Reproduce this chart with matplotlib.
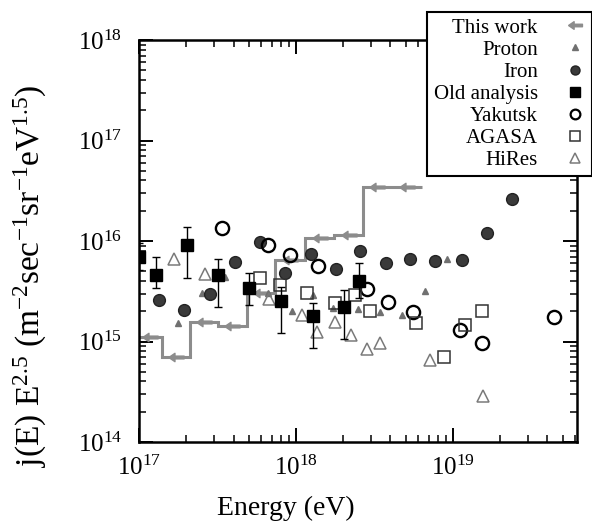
import matplotlib
matplotlib.use('Agg')
import matplotlib.pyplot as plt
import numpy as np
from matplotlib.path import Path
from matplotlib.lines import Line2D
from matplotlib.ticker import LogLocator, NullFormatter

plt.rcParams['font.family'] = ['Liberation Serif', 'DejaVu Serif']
plt.rcParams['mathtext.fontset'] = 'custom'
plt.rcParams['mathtext.rm'] = 'Liberation Serif'
plt.rcParams['mathtext.it'] = 'Liberation Serif:italic'
plt.rcParams['mathtext.bf'] = 'Liberation Serif:bold'

# ---------------- data ----------------
this_work_edges = [1.0e17, 1.40e17, 2.11e17, 3.18e17, 4.88e17, 7.35e17,
                   1.14e18, 1.75e18, 2.67e18, 4.08e18, 6.35e18]
this_work_flux = [1.11e15, 7.0e14, 1.56e15, 1.43e15, 3.04e15, 6.47e15,
                  1.07e16, 1.15e16, 3.44e16, 3.44e16]

proton_E = [1.77e17, 2.52e17, 3.53e17, 5.09e17, 6.64e17, 9.44e17, 1.28e18,
            1.72e18, 2.48e18, 3.43e18, 4.73e18, 6.64e18, 9.16e18]
proton_J = [1.53e15, 3.04e15, 4.38e15, 3.25e15, 3.04e15, 2.01e15, 2.90e15,
            2.15e15, 2.10e15, 1.97e15, 1.84e15, 3.18e15, 6.62e15]

iron_E = [1.34e17, 1.94e17, 2.83e17, 4.08e17, 5.90e17, 8.51e17, 1.25e18,
          1.80e18, 2.56e18, 3.74e18, 5.32e18, 7.67e18, 1.14e19, 1.65e19, 2.38e19]
iron_J = [2.59e15, 2.06e15, 2.97e15, 6.18e15, 9.77e15, 4.81e15, 7.43e15,
          5.26e15, 7.94e15, 6.04e15, 6.62e15, 6.30e15, 6.47e15, 1.20e16, 2.62e16]

old_E = [1.00e17, 1.28e17, 2.02e17, 3.18e17, 5.02e17, 8.02e17, 1.28e18, 2.02e18, 2.52e18]
old_J = [6.93e15, 4.59e15, 9.12e15, 4.59e15, 3.40e15, 2.53e15, 1.79e15, 2.20e15, 4.00e15]
old_hi = [9.55e15, 6.93e15, 1.38e16, 6.62e15, 4.81e15, 3.48e15, 2.42e15, 3.25e15, 6.04e15]
old_lo = [5.14e15, 3.40e15, 4.28e15, 2.20e15, 2.31e15, 1.22e15, 8.61e14, 1.06e15, 2.71e15]

yakutsk_E = [3.38e17, 6.64e17, 9.16e17, 1.38e18, 2.83e18, 3.85e18, 5.56e18,
             1.11e19, 1.53e19, 4.40e19]
yakutsk_J = [1.35e16, 9.12e15, 7.26e15, 5.64e15, 3.33e15, 2.47e15, 1.97e15,
             1.30e15, 9.66e14, 1.75e15]

agasa_E = [5.90e17, 7.91e17, 1.17e18, 1.77e18, 2.38e18, 2.96e18, 5.81e18,
           8.77e18, 1.19e19, 1.53e19]
agasa_J = [4.28e15, 3.65e15, 3.04e15, 2.42e15, 2.90e15, 2.01e15, 1.53e15,
           7.01e14, 1.46e15, 2.01e15]

hires_E = [1.67e17, 2.63e17, 6.73e17, 1.09e18, 1.36e18, 1.77e18, 2.24e18,
           2.83e18, 3.43e18, 7.14e18, 1.55e19]
hires_J = [6.62e15, 4.70e15, 2.65e15, 1.84e15, 1.24e15, 1.56e15, 1.16e15,
           8.41e14, 9.66e14, 6.54e14, 2.87e14]

legend_labels = ['This work', 'Proton', 'Iron', 'Old analysis', 'Yakutsk', 'AGASA', 'HiRes']

# ---------------- figure ----------------
fig = plt.figure(figsize=(5.92, 5.29), dpi=100)
ax = fig.add_axes([139/592, 1-442/529, 438/592, 402/529])

gray = '#8c8c8c'
arrow = Path([(-1, 0), (-0.2, 0.55), (-0.2, 0.18), (1, 0.18), (1, -0.18),
              (-0.2, -0.18), (-0.2, -0.55), (-1, 0)])

edges = np.array(this_work_edges)
centers = np.sqrt(edges[:-1] * edges[1:])
ax.stairs(this_work_flux, edges, baseline=None, color=gray, lw=2.2, zorder=2)
ax.plot(centers, this_work_flux, ls='none', marker=arrow, ms=11, color=gray,
        mec=gray, zorder=3)

ax.plot(proton_E, proton_J, ls='none', marker='^', ms=5, color='#707070', mec='#707070', zorder=4)
ax.plot(iron_E, iron_J, ls='none', marker='o', ms=8.5, color='#3a3a3a', mec='#222222', zorder=4)
oj = np.array(old_J)
ax.errorbar(old_E, old_J, yerr=[oj - np.array(old_lo), np.array(old_hi) - oj],
            fmt='s', ms=8, color='black', ecolor='black', elinewidth=1, capsize=3,
            capthick=1, zorder=5)
ax.plot(yakutsk_E, yakutsk_J, ls='none', marker='o', ms=9.5, mfc='none', mec='black', mew=1.7, zorder=4)
ax.plot(agasa_E, agasa_J, ls='none', marker='s', ms=8.5, mfc='none', mec='#333333', mew=1.1, zorder=4)
ax.plot(hires_E, hires_J, ls='none', marker='^', ms=8.5, mfc='none', mec='#7a7a7a', mew=1.1, zorder=4)

ax.set_xscale('log')
ax.set_yscale('log')
ax.set_xlim(1e17, 6.17e19)
ax.set_ylim(1e14, 1e18)

ax.xaxis.set_major_locator(LogLocator(base=10, numticks=10))
ax.yaxis.set_major_locator(LogLocator(base=10, numticks=10))
ax.xaxis.set_minor_locator(LogLocator(base=10, subs=np.arange(2, 10), numticks=20))
ax.yaxis.set_minor_locator(LogLocator(base=10, subs=np.arange(2, 10), numticks=20))
ax.xaxis.set_minor_formatter(NullFormatter())
ax.yaxis.set_minor_formatter(NullFormatter())

ax.tick_params(which='both', direction='in', top=True, right=True, labelsize=18)
ax.tick_params(which='major', length=10, width=1.4)
ax.tick_params(which='minor', length=5, width=1.1)
ax.tick_params(axis='x', which='major', pad=10)
ax.tick_params(axis='y', which='major', pad=12)
for s in ax.spines.values():
    s.set_linewidth(1.8)

fig.text(286/592, 1-508/529, 'Energy (eV)', ha='center', va='center', fontsize=20)
fig.text(30/592, 1-276/529,
         r'j(E) E$^{2.5}$ (m$^{-2}$sec$^{-1}$sr$^{-1}$eV$^{1.5}$)',
         rotation=90, ha='center', va='center', fontsize=24)

handles = [
    Line2D([], [], ls='none', marker=arrow, ms=10, color=gray, mec=gray),
    Line2D([], [], ls='none', marker='^', ms=4.5, color='#707070', mec='#707070'),
    Line2D([], [], ls='none', marker='o', ms=6.5, color='#3a3a3a', mec='#222222'),
    Line2D([], [], ls='none', marker='s', ms=6.5, color='black'),
    Line2D([], [], ls='none', marker='o', ms=7, mfc='none', mec='black', mew=1.6),
    Line2D([], [], ls='none', marker='s', ms=7, mfc='none', mec='#333333', mew=1.1),
    Line2D([], [], ls='none', marker='^', ms=6.5, mfc='none', mec='#7a7a7a', mew=1.1),
]
leg = ax.legend(handles, legend_labels, loc='upper right', bbox_to_anchor=(1.034, 1.07),
                borderaxespad=0, markerfirst=False, fontsize=15, frameon=True,
                fancybox=False, framealpha=1, edgecolor='black', labelspacing=0.12,
                handlelength=1.0, handletextpad=1.3, borderpad=0.3)
leg.get_frame().set_linewidth(1.5)
leg.set_zorder(10)

fig.savefig('out.png', dpi=100)
